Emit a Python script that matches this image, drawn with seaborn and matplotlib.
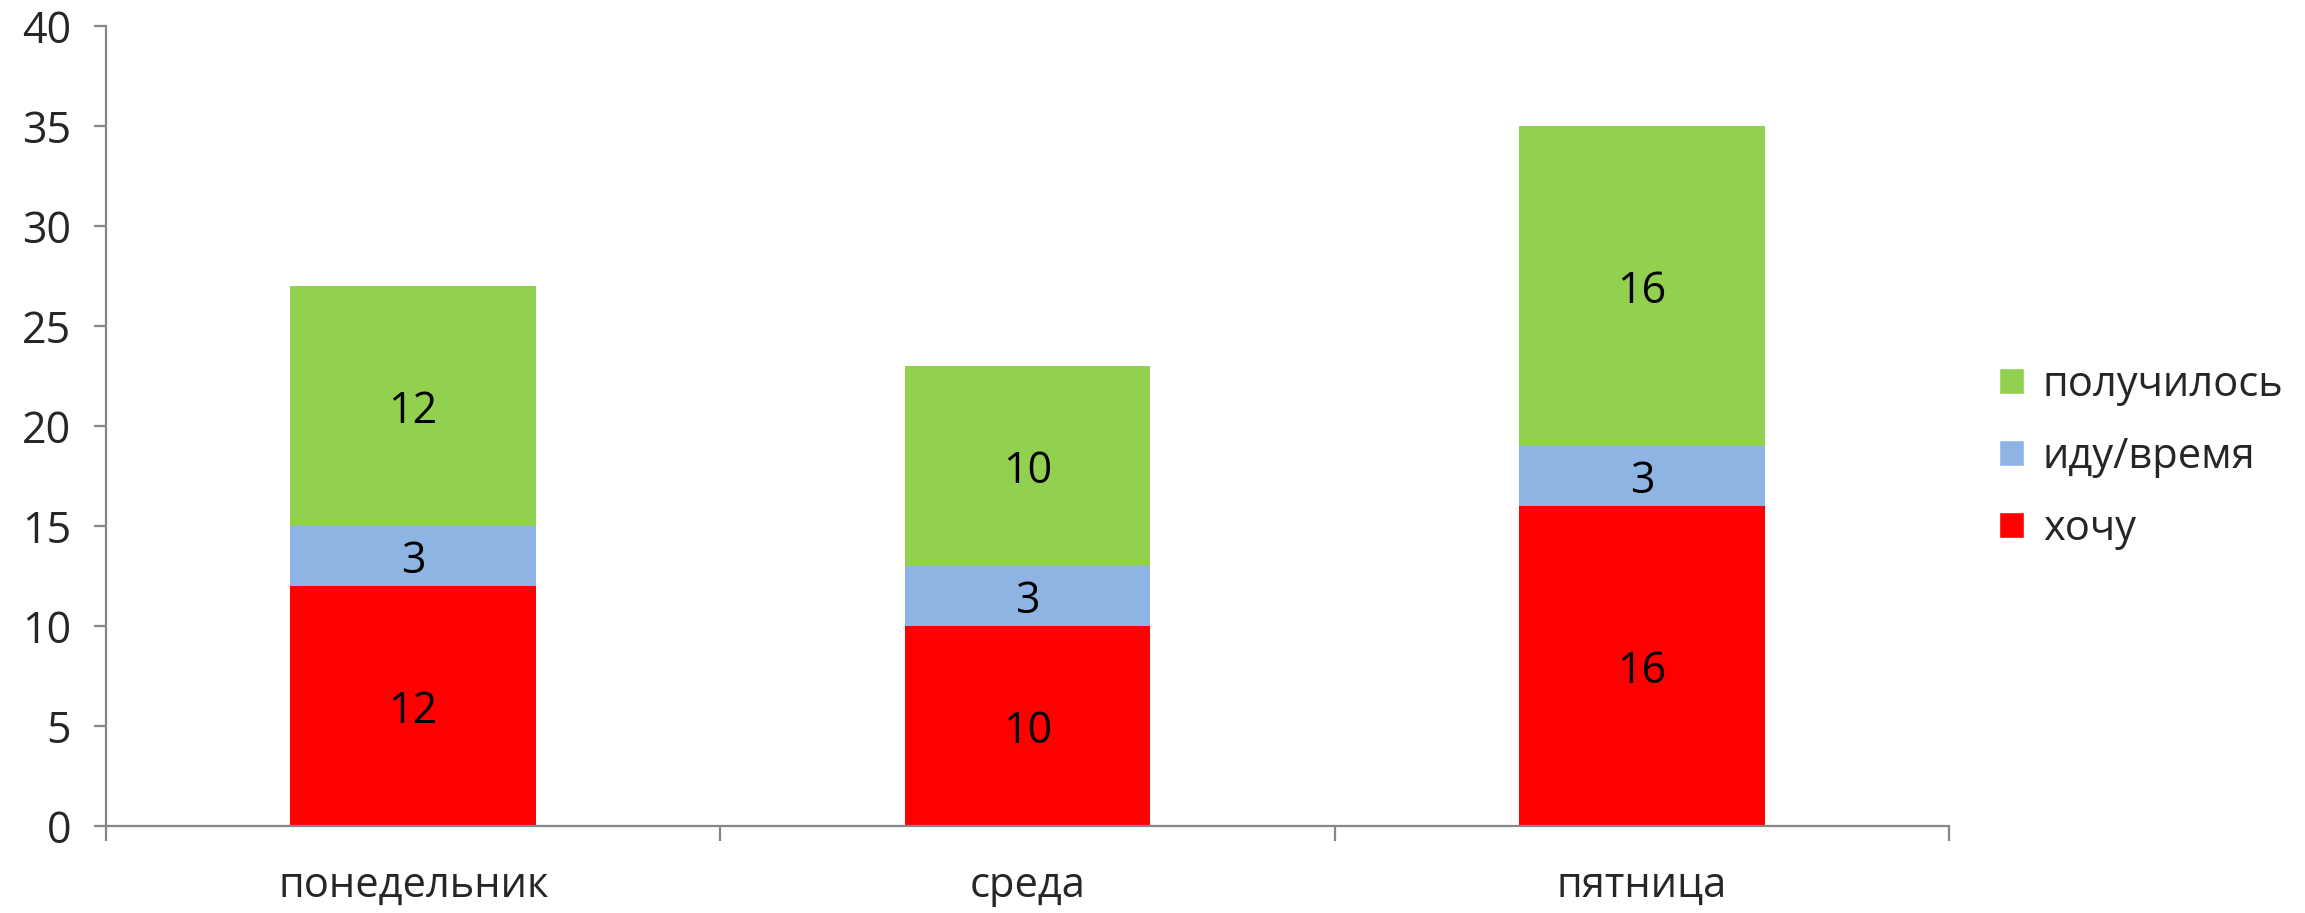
import pandas as pd
import matplotlib
matplotlib.use("Agg")
import matplotlib.pyplot as plt
import seaborn as sns
from matplotlib.patches import Patch

days = ['понедельник', 'среда', 'пятница']
series = ['хочу', 'иду/время', 'получилось']
hochu = [12, 10, 16]
idu = [3, 3, 3]
poluch = [12, 10, 16]
colors = ['#FF0000', '#8EB4E3', '#92D050']
yticks = [0, 5, 10, 15, 20, 25, 30, 35, 40]

df = pd.DataFrame({'day': days, 'хочу': hochu, 'иду/время': idu, 'получилось': poluch})
cum = df[series].cumsum(axis=1)

sns.set_style("white")
plt.rcParams['font.family'] = ['Open Sans', 'DejaVu Sans']

fig = plt.figure(figsize=(23.05, 9.13), dpi=100)
ax = fig.add_axes([0.046, 0.0953, 0.7996, 0.8762])

# stacked bars: draw the cumulative totals from the top down
for s, c in reversed(list(zip(series, colors))):
    sns.barplot(x=df['day'], y=cum[s], color=c, width=0.4, saturation=1,
                ax=ax, linewidth=0)

for i in range(len(days)):
    for s in series:
        v = df.loc[i, s]
        ax.text(i, cum.loc[i, s] - v / 2, str(v), ha='center',
                va='center_baseline', fontsize=31, color='black')

ax.set_ylim(0, 40)
ax.set_yticks(yticks)
ax.set_xlim(-0.5, 2.5)
ax.set_xlabel('')
ax.set_ylabel('')

grey = '#868686'
for side in ['top', 'right']:
    ax.spines[side].set_visible(False)
for side in ['left', 'bottom']:
    ax.spines[side].set_color(grey)
    ax.spines[side].set_linewidth(1.6)

ax.tick_params(axis='y', direction='out', length=9, width=1.6, color=grey,
               pad=16, labelsize=31, left=True)
# x ticks at category boundaries, labels at the centers
ax.set_xticks([-0.5, 0.5, 1.5, 2.5], minor=True)
ax.set_xticks(range(len(days)))
ax.set_xticklabels(days)
ax.tick_params(axis='x', which='minor', direction='out', length=11, width=1.6,
               color=grey, bottom=True)
ax.tick_params(axis='x', which='major', length=0, pad=28, labelsize=30)

handles = [Patch(facecolor=c, label=s) for s, c in zip(series, colors)][::-1]
fig.legend(handles=handles, loc='center left', bbox_to_anchor=(0.851, 0.5),
           frameon=False, fontsize=30, handlelength=0.6, handleheight=0.6,
           handletextpad=0.45, labelspacing=0.72)

fig.savefig('out.png', dpi=100)
